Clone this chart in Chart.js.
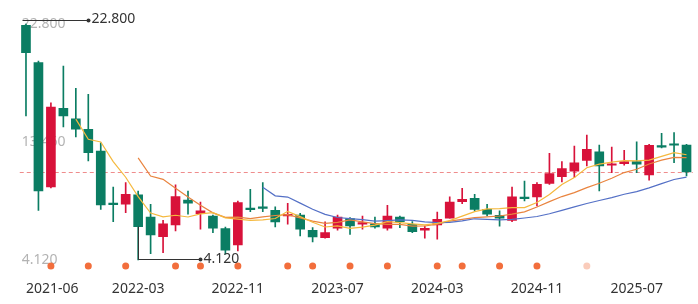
<!DOCTYPE html>
<html><head><meta charset="utf-8">
<script src="https://cdn.jsdelivr.net/npm/chart.js@4.4.1/dist/chart.umd.min.js"></script>
<style>html,body{margin:0;padding:0;background:#fff}#wrap{width:698px;height:304px;position:relative}</style>
</head><body><div id="wrap"><canvas id="c" width="698" height="304"></canvas></div>
<script>
const categories = [
 '2021-06','2021-07','2021-08','2021-09','2021-10','2021-11','2021-12',
 '2022-01','2022-02','2022-03','2022-04','2022-05','2022-06','2022-07','2022-08','2022-09','2022-10','2022-11','2022-12',
 '2023-01','2023-02','2023-03','2023-04','2023-05','2023-06','2023-07','2023-08','2023-09','2023-10','2023-11','2023-12',
 '2024-01','2024-02','2024-03','2024-04','2024-05','2024-06','2024-07','2024-08','2024-09','2024-10','2024-11','2024-12',
 '2025-01','2025-02','2025-03','2025-04','2025-05','2025-06','2025-07','2025-08','2025-09','2025-10','2025-11'
];
const openP  = [22.70,19.74,9.90,16.13,15.30,14.47,12.75,8.55,8.53,9.27,7.52,5.96,6.89,8.87,7.78,7.60,6.60,5.31,8.21,8.32,8.05,7.60,7.68,6.47,5.89,6.63,7.39,6.95,6.99,6.63,7.52,6.95,6.47,6.89,7.42,8.74,9.00,8.13,7.66,7.26,9.05,9.11,10.19,10.71,11.16,12.01,12.69,11.62,11.74,11.90,10.85,13.14,13.28,13.22];
const highP  = [22.80,19.87,16.57,19.48,17.71,17.24,13.40,9.90,10.24,9.58,8.53,7.26,10.06,9.58,8.71,7.68,6.73,8.79,9.72,10.24,8.32,8.61,7.82,6.68,7.13,7.68,7.47,7.60,7.52,8.45,7.60,7.15,6.81,7.92,9.11,9.80,9.32,8.53,8.00,9.90,10.37,10.24,12.57,11.90,13.14,14.01,13.22,13.06,12.80,13.48,13.28,14.15,14.20,13.28];
const lowP   = [15.52,8.05,9.82,14.65,13.86,11.96,8.13,7.15,7.86,4.12,4.62,4.70,6.42,7.74,6.55,6.28,4.57,4.83,7.94,7.94,6.73,6.95,6.02,5.55,5.85,6.47,6.15,6.55,6.63,6.47,6.68,6.28,5.84,5.76,7.42,8.58,8.00,7.60,6.79,7.15,8.79,8.39,10.11,10.29,10.64,11.56,9.58,11.03,11.62,11.03,10.43,13.00,11.82,10.77];
const closeP = [20.53,9.58,16.23,15.52,14.47,12.61,8.47,8.50,9.32,6.76,6.10,6.99,9.13,8.61,8.00,6.63,4.89,8.66,8.10,8.21,7.13,7.74,6.55,5.94,6.28,7.52,6.81,7.07,6.73,7.60,7.15,6.36,6.63,7.34,8.71,8.93,8.13,7.74,7.42,9.11,8.97,10.11,10.95,11.35,11.82,12.88,11.56,11.74,11.90,11.70,13.20,13.06,13.20,11.09];
const ma5  = [null,null,null,null,15.27,13.68,13.46,11.91,10.67,9.13,7.83,7.53,7.66,7.52,7.77,7.87,7.45,7.36,7.26,7.30,7.40,7.97,7.55,7.11,6.73,6.81,6.62,6.72,6.88,7.15,7.07,6.98,6.89,7.02,7.24,7.59,7.95,8.17,8.19,8.27,8.27,8.67,9.31,10.10,10.64,11.42,11.71,11.87,11.98,11.96,12.02,12.32,12.61,12.45];
const ma10 = [null,null,null,null,null,null,null,null,null,12.20,10.76,10.50,9.79,9.10,8.45,7.85,7.49,7.51,7.39,7.53,7.64,7.71,7.45,7.19,7.01,7.10,7.29,7.14,7.00,6.94,6.94,6.80,6.81,6.95,7.19,7.33,7.47,7.53,7.60,7.75,7.93,8.31,8.74,9.14,9.45,9.85,10.19,10.59,11.04,11.30,11.72,12.02,12.24,12.22];
const ma20 = [null,null,null,null,null,null,null,null,null,null,null,null,null,null,null,null,null,null,null,9.87,9.20,9.10,8.62,8.14,7.73,7.48,7.39,7.32,7.19,7.23,7.29,7.26,7.13,7.07,7.10,7.22,7.38,7.33,7.30,7.34,7.44,7.56,7.78,8.05,8.32,8.59,8.83,9.06,9.32,9.53,9.83,10.16,10.49,10.68];
const yTickValues = [4.12, 13.46, 22.80];
const xTickLabels = ['2021-06','2022-03','2022-11','2023-07','2024-03','2024-11','2025-07'];
const eventMonths = ['2021-08','2021-11','2022-02','2022-06','2022-08','2022-11','2023-03','2023-05','2023-08','2023-11','2024-03','2024-05','2024-08','2024-11'];
const pendingEventMonths = ['2025-03'];

const UP = '#d8123a', DOWN = '#0b7d63';
const DOT_LEVEL = 3.64;
const candleColors = closeP.map((c, i) => c >= openP[i] ? UP : DOWN);
const lastClose = closeP[closeP.length - 1];
const dotData = categories.map(m => (eventMonths.includes(m) || pendingEventMonths.includes(m)) ? DOT_LEVEL : null);
const dotColors = categories.map(m => pendingEventMonths.includes(m) ? 'rgba(242,110,60,0.35)' : '#f26e3c');

const marks = {
  id: 'marks',
  beforeDatasetsDraw(chart) {
    const {ctx, chartArea, scales: {y}} = chart;
    const py = Math.round(y.getPixelForValue(lastClose)) + 0.5;
    ctx.save();
    ctx.strokeStyle = '#ef8c8c';
    ctx.lineWidth = 1;
    ctx.setLineDash([4, 3]);
    ctx.beginPath(); ctx.moveTo(chartArea.left, py); ctx.lineTo(chartArea.right, py); ctx.stroke();
    ctx.restore();
  },
  afterDatasetsDraw(chart) {
    const {ctx, scales: {x, y}} = chart;
    const maxV = Math.max(...highP), minV = Math.min(...lowP);
    const iMax = highP.indexOf(maxV), iMin = lowP.indexOf(minV);
    ctx.save();
    ctx.strokeStyle = '#333'; ctx.fillStyle = '#333'; ctx.lineWidth = 1;
    ctx.font = '14px "Noto Sans"'; ctx.textBaseline = 'middle'; ctx.textAlign = 'left';
    let px = Math.round(x.getPixelForValue(iMax)) + 0.5;
    let py = Math.round(y.getPixelForValue(maxV)) - 3.5;
    ctx.beginPath(); ctx.moveTo(px - 4, py); ctx.lineTo(px + 62, py); ctx.stroke();
    ctx.beginPath(); ctx.arc(px + 62, py, 2, 0, Math.PI * 2); ctx.fill();
    ctx.fillText(maxV.toFixed(3), px + 65, py - 1);
    px = Math.round(x.getPixelForValue(iMin)) + 0.5;
    const pTop = y.getPixelForValue(Math.min(openP[iMin], closeP[iMin]));
    py = Math.round(y.getPixelForValue(minV)) - 0.5;
    ctx.beginPath(); ctx.moveTo(px, pTop); ctx.lineTo(px, py); ctx.lineTo(px + 62, py); ctx.stroke();
    ctx.beginPath(); ctx.arc(px + 62, py, 2, 0, Math.PI * 2); ctx.fill();
    ctx.fillText(minV.toFixed(3), px + 65, py);
    ctx.restore();
  }
};

new Chart(document.getElementById('c'), {
  type: 'bar',
  data: {
    labels: categories,
    datasets: [
      {label: 'wick', data: lowP.map((l, i) => [l, highP[i]]), backgroundColor: candleColors, barThickness: 1, grouped: false, order: 4, borderWidth: 0},
      {label: 'body', data: openP.map((o, i) => [o, closeP[i]]), backgroundColor: candleColors, barThickness: 9, minBarLength: 1.5, grouped: false, order: 3, borderWidth: 0},
      {type: 'line', label: 'MA20', data: ma20, borderColor: '#5470c6', borderWidth: 1.2, pointRadius: 0, tension: 0, order: 2},
      {type: 'line', label: 'MA10', data: ma10, borderColor: '#e9843f', borderWidth: 1.2, pointRadius: 0, tension: 0, order: 2},
      {type: 'line', label: 'MA5', data: ma5, borderColor: '#f5b93e', borderWidth: 1.2, pointRadius: 0, tension: 0, order: 1},
      {type: 'line', label: 'events', data: dotData, showLine: false, pointRadius: 3.5, pointBorderWidth: 0, pointBackgroundColor: dotColors, pointBorderColor: dotColors, order: 0}
    ]
  },
  options: {
    responsive: false,
    animation: false,
    devicePixelRatio: 1,
    layout: {padding: {left: 15.75, right: 5.25, top: 5, bottom: 3.7}},
    plugins: {legend: {display: false}, tooltip: {enabled: false}},
    scales: {
      x: {
        offset: true,
        grid: {display: false, drawTicks: false},
        border: {display: false},
        ticks: {
          autoSkip: false, maxRotation: 0, minRotation: 0, align: 'inner', padding: 3,
          color: '#333', font: {size: 14, family: 'Noto Sans'},
          callback: (v, i) => xTickLabels.includes(categories[i]) ? categories[i] : ''
        }
      },
      y: {
        min: 2.73, max: 24.27,
        afterBuildTicks: s => { s.ticks = yTickValues.map(v => ({value: v})); },
        grid: {display: false, drawTicks: false},
        border: {display: false},
        ticks: {mirror: true, padding: 2, color: '#b3b3b3', font: {size: 14, family: 'Noto Sans', lineHeight: 0.5},
          callback: v => Number(v).toFixed(3)}
      }
    }
  },
  plugins: [marks]
});
</script>
</body></html>
